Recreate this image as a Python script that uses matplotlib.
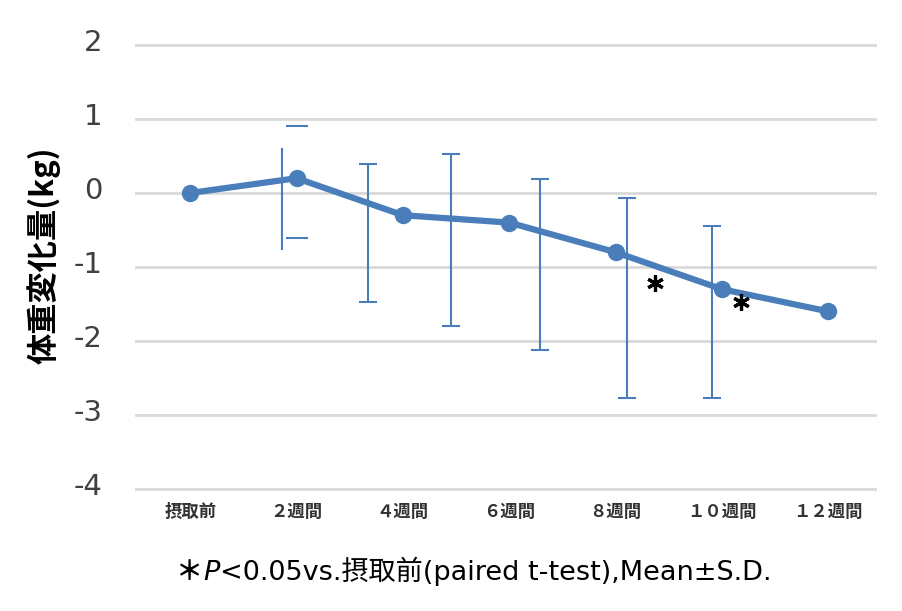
import numpy as np
import matplotlib.pyplot as plt
from matplotlib.transforms import ScaledTranslation

plt.rcParams['axes.unicode_minus'] = False
plt.rcParams['font.family'] = ['DejaVu Sans', 'Noto Sans CJK JP']

# data
categories = ['摂取前', '２週間', '４週間', '６週間', '８週間', '１０週間', '１２週間']
weight_change = [0.0, 0.2, -0.3, -0.4, -0.8, -1.3, -1.6]

# error bars as drawn in the figure (position on category axis, top, bottom)
err_x = [0.865, 1.67, 2.45, 3.29, 4.11, 4.91]
err_top = [0.61, 0.39, 0.53, 0.19, -0.07, -0.45]
err_bottom = [-0.77, -1.47, -1.80, -2.12, -2.77, -2.77]
err_caps = [False, True, True, True, True, True]
# stray caps at 2週間
stray_cap_x = [1.0, 1.0]
stray_cap_y = [0.90, -0.61]

# significance marks
sig_x = [4.37, 5.18]
sig_y = [-1.22, -1.47]

blue = '#4a7ebb'

fig = plt.figure(figsize=(9.03, 6.11), dpi=100)
ax = fig.add_axes([136 / 903, 1 - 489 / 611, (875 - 136) / 903, (489 - 45) / 611])

x = np.arange(len(categories))

# error bars
for xi, top, bot, cap in zip(err_x, err_top, err_bottom, err_caps):
    mid = (top + bot) / 2
    ax.errorbar(xi, mid, yerr=[[mid - bot], [top - mid]], fmt='none',
                ecolor=blue, elinewidth=1.5, capsize=6.5 if cap else 0,
                capthick=1.5, zorder=3)
ax.plot(stray_cap_x, stray_cap_y, linestyle='none', marker='_',
        markersize=16, markeredgewidth=1.5, color=blue, zorder=3)

# main line
ax.plot(x, weight_change, color=blue, linewidth=4.5, marker='o',
        markersize=11.5, zorder=4)

# asterisks
ax.plot(sig_x, sig_y, linestyle='none', marker=(6, 2, 0), markersize=12,
        markeredgewidth=2.3, color='black', zorder=5)

ax.set_xlim(-0.51, 6.44)
ax.set_ylim(-4, 2)
ax.set_yticks(np.arange(-4, 3, 1))
ax.set_xticks(x)
ax.set_xticklabels(categories, fontsize=12.5, family=['Noto Sans CJK JP'],
                   fontweight='bold', color='#333333')
ax.tick_params(axis='y', length=0, pad=24, labelsize=21, labelcolor='#404040')
ax.tick_params(axis='x', length=0, pad=10)
for lab in ax.get_yticklabels():
    lab.set_transform(lab.get_transform() + ScaledTranslation(0, 5 / 100, fig.dpi_scale_trans))

ax.grid(axis='y', color='#d9d9d9', linewidth=2)
ax.set_axisbelow(True)
for gl in ax.get_ygridlines():
    gl.set_clip_on(False)
for s in ax.spines.values():
    s.set_visible(False)

fig.text(44 / 903, 1 - 255 / 611, '体重変化量(kg)', rotation=90, ha='center',
         va='center', fontsize=22.5, fontweight='bold',
         family=['Noto Sans CJK JP'])

# footnote
t1 = fig.text(176 / 903, 1 - 580 / 611, '＊', fontsize=19.5,
              family=['Noto Sans CJK JP'], fontweight='bold', va='baseline')
t2 = ax.annotate('P', xy=(1, 0), xycoords=t1, fontsize=19.5,
                 fontstyle='italic', va='bottom', ha='left',
                 annotation_clip=False)
t3 = ax.annotate('<0.05vs.摂取前(paired t-test),Mean±S.D.', xy=(1, 0),
                 xycoords=t2, fontsize=19.5, va='bottom', ha='left',
                 annotation_clip=False)

fig.savefig('out.png', dpi=100)
